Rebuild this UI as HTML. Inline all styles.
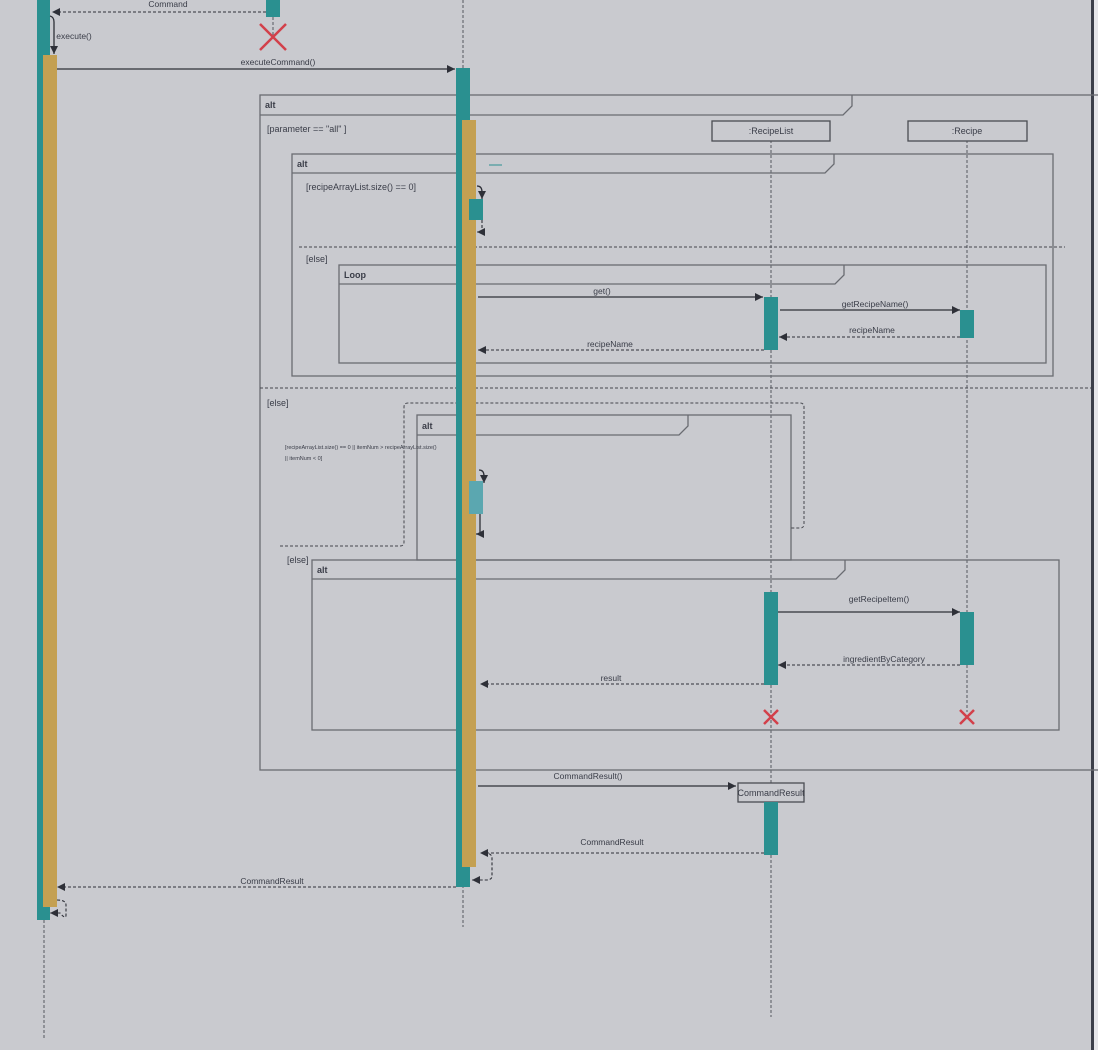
<!DOCTYPE html>
<html><head><meta charset="utf-8">
<style>
html,body{margin:0;padding:0;background:#c9cacf;}
svg{display:block;}
text{font-family:"Liberation Sans",sans-serif;fill:#3a3d48;}
</style></head>
<body>
<svg width="1098" height="1050" viewBox="0 0 1098 1050" xmlns="http://www.w3.org/2000/svg">
<defs>
<marker id="a" markerWidth="10" markerHeight="10" refX="9" refY="5" orient="auto" markerUnits="userSpaceOnUse">
<path d="M1,1 L9,5 L1,9 Z" fill="#2e3038"/></marker>
</defs>
<rect width="1098" height="1050" fill="#c9cacf"/>
<rect x="1091" y="0" width="3" height="1050" fill="#3c3f4a"/>
<rect x="1094" y="0" width="4" height="1050" fill="#e6e6ea"/>

<!-- lifelines -->
<g stroke="#55585f" stroke-width="1" stroke-dasharray="3,2" fill="none">
<line x1="44" y1="915" x2="44" y2="1040"/>
<line x1="463" y1="0" x2="463" y2="927"/>
<line x1="273" y1="17" x2="273" y2="35"/>
<line x1="771" y1="140" x2="771" y2="1017"/>
<line x1="967" y1="140" x2="967" y2="712"/>
</g>

<!-- frames -->
<g fill="none" stroke="#6a6c72" stroke-width="1.3">
<rect x="260" y="95" width="845" height="675"/>
<path d="M260,115 H843 L852,106 V95"/>
<rect x="292" y="154" width="761" height="222"/>
<path d="M292,173 H825 L834,164 V154"/>
<rect x="339" y="265" width="707" height="98"/>
<path d="M339,284 H835 L844,275 V265"/>
<rect x="417" y="415" width="374" height="145"/>
<path d="M417,435 H679 L688,426 V415"/>
<rect x="312" y="560" width="747" height="170"/>
<path d="M312,579 H836 L845,570 V560"/>
</g>
<g fill="none" stroke="#45474e" stroke-width="1" stroke-dasharray="3,2">
<line x1="260" y1="388" x2="1091" y2="388"/>
<line x1="299" y1="247" x2="1065" y2="247"/>
<path d="M280,546 H400 Q404,546 404,542 V407 Q404,403 408,403 H800 Q804,403 804,407 V524 Q804,528 800,528 H790"/>
</g>

<!-- frame labels -->
<g font-size="9">
<text x="265" y="108" font-weight="bold" fill="#2a2c35">alt</text>
<text x="297" y="167" font-weight="bold" fill="#2a2c35">alt</text>
<text x="344" y="278" font-weight="bold" fill="#2a2c35">Loop</text>
<text x="422" y="429" font-weight="bold" fill="#2a2c35">alt</text>
<text x="317" y="573" font-weight="bold" fill="#2a2c35">alt</text>
<text x="267" y="132" fill="#555">[parameter == "all" ]</text>
<text x="306" y="190" fill="#555">[recipeArrayList.size() == 0]</text>
<text x="306" y="262" fill="#555">[else]</text>
<text x="267" y="406" fill="#555">[else]</text>
<text x="287" y="563" fill="#555">[else]</text>
</g>
<text x="285" y="449" font-size="5.5" fill="#555">[recipeArrayList.size() == 0 || itemNum &gt; recipeArrayList.size()</text>
<text x="285" y="460" font-size="5.5" fill="#555">|| itemNum &lt; 0]</text>
<line x1="489" y1="165" x2="502" y2="165" stroke="#2a9090" stroke-width="1"/>

<!-- object boxes -->
<g fill="#c9cacf" stroke="#4a4c52" stroke-width="1.3">
<rect x="712" y="121" width="118" height="20"/>
<rect x="908" y="121" width="119" height="20"/>
<rect x="738" y="783" width="66" height="19"/>
</g>
<g font-size="9" text-anchor="middle">
<text x="771" y="134">:RecipeList</text>
<text x="967" y="134">:Recipe</text>
<text x="771" y="796">CommandResult</text>
</g>

<!-- activation bars -->
<rect x="37" y="0" width="13" height="920" fill="#2a9090"/>
<rect x="43" y="55" width="14" height="852" fill="#c4a052"/>
<rect x="266" y="0" width="14" height="17" fill="#2a9090"/>
<rect x="456" y="68" width="14" height="819" fill="#2a9090"/>
<rect x="462" y="120" width="14" height="747" fill="#c4a052"/>
<rect x="469" y="199" width="14" height="21" fill="#2a9090"/>
<rect x="469" y="481" width="14" height="33" fill="#5ba7b0"/>
<rect x="764" y="297" width="14" height="53" fill="#2a9090"/>
<rect x="960" y="310" width="14" height="28" fill="#2a9090"/>
<rect x="764" y="592" width="14" height="93" fill="#2a9090"/>
<rect x="960" y="612" width="14" height="53" fill="#2a9090"/>
<rect x="764" y="802" width="14" height="53" fill="#2a9090"/>

<!-- red crosses -->
<g stroke="#d2404a" stroke-width="2.5">
<path d="M260,24 L286,50 M286,24 L260,50"/>
<path d="M764,710 L778,724 M778,710 L764,724"/>
<path d="M960,710 L974,724 M974,710 L960,724"/>
</g>

<!-- solid messages -->
<g stroke="#2e3038" stroke-width="1.3" fill="none" marker-end="url(#a)">
<line x1="57" y1="69" x2="455" y2="69"/>
<line x1="478" y1="297" x2="763" y2="297"/>
<line x1="780" y1="310" x2="960" y2="310"/>
<line x1="778" y1="612" x2="960" y2="612"/>
<line x1="478" y1="786" x2="736" y2="786"/>
<path d="M50,16 Q54,17 54,22 V54"/>
<path d="M477,186 Q482,186 482,192 V199"/>
<path d="M479,470 Q484,470 484,476 V483"/>
<path d="M480,514 V534 H476"/>
</g>
<!-- dashed messages -->
<g stroke="#2e3038" stroke-width="1.1" fill="none" stroke-dasharray="3,2" marker-end="url(#a)">
<line x1="266" y1="12" x2="52" y2="12"/>
<line x1="960" y1="337" x2="779" y2="337"/>
<line x1="764" y1="350" x2="478" y2="350"/>
<line x1="960" y1="665" x2="778" y2="665"/>
<line x1="764" y1="684" x2="480" y2="684"/>
<line x1="764" y1="853" x2="480" y2="853"/>
<line x1="456" y1="887" x2="57" y2="887"/>
<path d="M482,220 V232 H477"/>
<path d="M484,853 Q492,853 492,858 V876 Q492,880 486,880 H472"/>
<path d="M57,900 Q66,900 66,905 V915 Q66,920 60,913 H50"/>
</g>

<!-- message labels -->
<g font-size="8.5" text-anchor="middle" fill="#444">
<text x="168" y="7">Command</text>
<text x="74" y="39">execute()</text>
<text x="278" y="65">executeCommand()</text>
<text x="602" y="294">get()</text>
<text x="875" y="307">getRecipeName()</text>
<text x="872" y="333">recipeName</text>
<text x="610" y="347">recipeName</text>
<text x="879" y="602">getRecipeItem()</text>
<text x="884" y="662">ingredientByCategory</text>
<text x="611" y="681">result</text>
<text x="588" y="779">CommandResult()</text>
<text x="612" y="845">CommandResult</text>
<text x="272" y="884">CommandResult</text>
</g>
</svg>
</body></html>
